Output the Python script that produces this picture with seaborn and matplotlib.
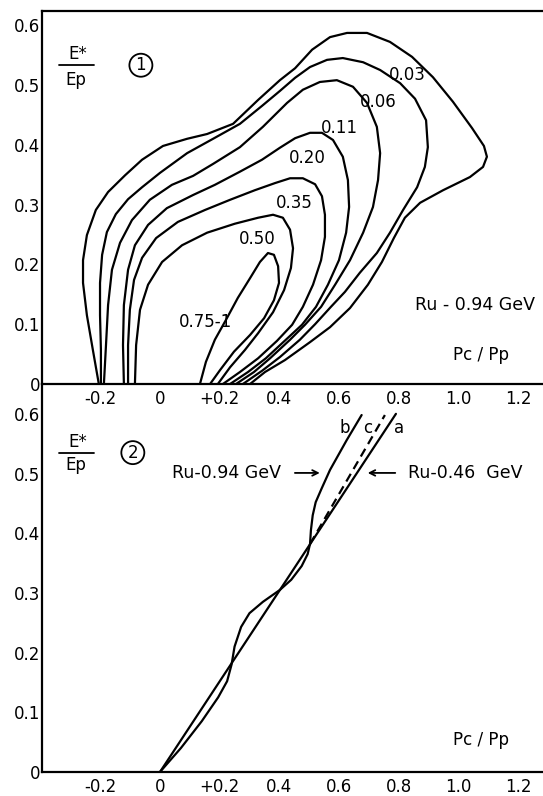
import matplotlib
matplotlib.use("Agg")
import matplotlib.pyplot as plt
import seaborn as sns

# Panel 1: iso-lines for Ru - 0.94 GeV, traced from the left foot over the top to the right foot
levels = ["0.03", "0.06", "0.11", "0.20", "0.35", "0.50", "0.75-1"]

x_003 = [-0.205, -0.225, -0.245, -0.258, -0.258, -0.245, -0.215, -0.174, -0.117, -0.060,
         0.010, 0.091, 0.158, 0.245, 0.329, 0.402, 0.453, 0.510, 0.570, 0.627,
         0.694, 0.771, 0.845, 0.915, 0.982, 1.046, 1.086, 1.096, 1.083, 1.039,
         0.949, 0.872, 0.821, 0.784, 0.744, 0.697, 0.637, 0.570, 0.503, 0.419, 0.352, 0.302]
y_003 = [0.0, 0.057, 0.115, 0.169, 0.207, 0.249, 0.291, 0.321, 0.349, 0.375,
         0.398, 0.410, 0.418, 0.435, 0.475, 0.508, 0.528, 0.559, 0.580, 0.587,
         0.587, 0.572, 0.547, 0.513, 0.472, 0.428, 0.398, 0.380, 0.363, 0.346,
         0.324, 0.303, 0.278, 0.244, 0.204, 0.166, 0.127, 0.095, 0.070, 0.040, 0.020, 0.0]

x_006 = [-0.198, -0.198, -0.201, -0.201, -0.194, -0.178, -0.148, -0.107, -0.060, 0.0,
         0.091, 0.178, 0.268, 0.342, 0.402, 0.453, 0.503, 0.560, 0.613, 0.681,
         0.738, 0.805, 0.855, 0.892, 0.898, 0.888, 0.862, 0.815, 0.771, 0.727,
         0.670, 0.620, 0.573, 0.520, 0.469, 0.402, 0.342, 0.278]
y_006 = [0.0, 0.057, 0.115, 0.169, 0.216, 0.254, 0.284, 0.309, 0.329, 0.353,
         0.386, 0.410, 0.435, 0.465, 0.490, 0.512, 0.530, 0.542, 0.545, 0.538,
         0.525, 0.503, 0.477, 0.441, 0.396, 0.363, 0.329, 0.291, 0.253, 0.219,
         0.186, 0.154, 0.129, 0.100, 0.074, 0.045, 0.022, 0.0]

x_011 = [-0.188, -0.181, -0.174, -0.161, -0.134, -0.094, -0.034, 0.040, 0.111, 0.178,
         0.268, 0.345, 0.426, 0.479, 0.536, 0.593, 0.647, 0.694, 0.727, 0.738,
         0.731, 0.714, 0.681, 0.637, 0.587, 0.540, 0.486, 0.436, 0.369, 0.315, 0.255]
y_011 = [0.0, 0.065, 0.132, 0.191, 0.236, 0.274, 0.308, 0.333, 0.348, 0.368,
         0.396, 0.430, 0.470, 0.492, 0.505, 0.508, 0.497, 0.470, 0.430, 0.386,
         0.341, 0.296, 0.253, 0.207, 0.166, 0.129, 0.099, 0.074, 0.043, 0.020, 0.0]

x_020 = [-0.121, -0.124, -0.121, -0.107, -0.084, -0.040, 0.023, 0.111, 0.184, 0.268,
         0.342, 0.402, 0.453, 0.503, 0.543, 0.580, 0.613, 0.630, 0.634, 0.624,
         0.600, 0.563, 0.523, 0.476, 0.422, 0.355, 0.295, 0.235]
y_020 = [0.0, 0.065, 0.132, 0.191, 0.232, 0.266, 0.294, 0.316, 0.333, 0.355,
         0.375, 0.395, 0.411, 0.420, 0.420, 0.408, 0.380, 0.341, 0.296, 0.253,
         0.207, 0.166, 0.129, 0.099, 0.074, 0.043, 0.020, 0.0]

x_035 = [-0.107, -0.107, -0.101, -0.087, -0.060, -0.013, 0.060, 0.151, 0.235, 0.318,
         0.386, 0.436, 0.479, 0.520, 0.543, 0.553, 0.553, 0.540, 0.513, 0.479,
         0.443, 0.392, 0.329, 0.268, 0.211]
y_035 = [0.0, 0.065, 0.124, 0.174, 0.211, 0.244, 0.271, 0.291, 0.308, 0.324,
         0.336, 0.344, 0.344, 0.334, 0.314, 0.283, 0.246, 0.207, 0.166, 0.129,
         0.099, 0.072, 0.043, 0.020, 0.0]

x_050 = [-0.084, -0.080, -0.067, -0.040, 0.007, 0.074, 0.158, 0.251, 0.329, 0.379,
         0.412, 0.436, 0.446, 0.439, 0.416, 0.379, 0.329, 0.285, 0.235, 0.194]
y_050 = [0.0, 0.065, 0.124, 0.166, 0.204, 0.232, 0.253, 0.268, 0.278, 0.283,
         0.278, 0.258, 0.227, 0.194, 0.157, 0.120, 0.085, 0.057, 0.028, 0.0]

x_075 = [0.134, 0.154, 0.184, 0.221, 0.261, 0.302, 0.335, 0.362, 0.382, 0.396,
         0.399, 0.382, 0.349, 0.302, 0.248, 0.201, 0.168]
y_075 = [0.0, 0.037, 0.074, 0.107, 0.144, 0.177, 0.204, 0.219, 0.216, 0.197,
         0.169, 0.140, 0.110, 0.082, 0.054, 0.023, 0.0]

# Panel 2: a = Ru-0.46 GeV, b = Ru-0.94 GeV, c = dashed
a_x = [0.0, 0.791]
a_y = [0.0, 0.600]
b_x = [0.0, 0.070, 0.140, 0.195, 0.225, 0.240, 0.250, 0.272, 0.300, 0.345, 0.402,
       0.440, 0.475, 0.495, 0.503, 0.506, 0.512, 0.522, 0.542, 0.570, 0.626, 0.676]
b_y = [0.0, 0.040, 0.085, 0.125, 0.152, 0.180, 0.210, 0.243, 0.266, 0.285, 0.305,
       0.322, 0.345, 0.365, 0.382, 0.405, 0.430, 0.452, 0.475, 0.506, 0.556, 0.598]
c_x = [0.503, 0.754]
c_y = [0.382, 0.598]

xticks = [-0.2, 0, 0.2, 0.4, 0.6, 0.8, 1.0, 1.2]
xtick_labels = ["-0.2", "0", "+0.2", "0.4", "0.6", "0.8", "1.0", "1.2"]
yticks = [0, 0.1, 0.2, 0.3, 0.4, 0.5, 0.6]
ytick_labels = ["0", "0.1", "0.2", "0.3", "0.4", "0.5", "0.6"]

sns.set_style("white")
plt.rcParams['font.family'] = ['DejaVu Sans']
plt.rcParams['text.color'] = 'black'
plt.rcParams['xtick.color'] = 'black'
plt.rcParams['ytick.color'] = 'black'

fig = plt.figure(figsize=(5.43, 7.96), dpi=100)
ax1 = fig.add_axes([0.0773, 0.5176, 0.9227, 0.4686])
ax2 = fig.add_axes([0.0773, 0.0302, 0.9227, 0.4874])

contours = [(x_003, y_003), (x_006, y_006), (x_011, y_011), (x_020, y_020),
            (x_035, y_035), (x_050, y_050), (x_075, y_075)]
for cx, cy in contours:
    sns.lineplot(x=cx, y=cy, sort=False, estimator=None, color="black", lw=1.6, ax=ax1)

sns.lineplot(x=a_x, y=a_y, sort=False, estimator=None, color="black", lw=1.6, ax=ax2)
sns.lineplot(x=b_x, y=b_y, sort=False, estimator=None, color="black", lw=1.6, ax=ax2)
sns.lineplot(x=c_x, y=c_y, sort=False, estimator=None, color="black", lw=1.6,
             linestyle=(0, (4, 2.5)), ax=ax2)

for ax, top in [(ax1, 0.6237), (ax2, 0.650)]:
    ax.set_xlim(-0.3956, 1.284)
    ax.set_ylim(0, top)
    ax.set_xticks(xticks)
    ax.set_xticklabels(xtick_labels)
    ax.set_yticks(yticks)
    ax.set_yticklabels(ytick_labels)
    ax.tick_params(axis='both', direction='in', length=6, width=1.3, labelsize=12,
                   colors='black', labelcolor='black')
    ax.tick_params(axis='x', pad=4)
    ax.tick_params(axis='y', pad=1)
    ax.spines['right'].set_visible(False)
    for s in ['left', 'bottom', 'top']:
        ax.spines[s].set_linewidth(1.6)
        ax.spines[s].set_color('black')
    ax.set_xlabel("")
    ax.set_ylabel("")
    ax.patch.set_alpha(0)
ax2.spines['top'].set_visible(False)

# E*/Ep fraction labels and panel numbers
for ax, ye, yl, yp, xn, num in [(ax1, 0.552, 0.508, 0.533, -0.064, "1"),
                                (ax2, 0.553, 0.514, 0.535, -0.091, "2")]:
    ax.text(-0.277, ye, "E*", fontsize=12, ha='center', va='center')
    ax.text(-0.281, yl, "Ep", fontsize=12, ha='center', va='center')
    ax.plot([-0.340, -0.222], [yp, yp], color='black', lw=1.3)
    ax.text(xn, yp, num, fontsize=12, ha='center', va='center',
            bbox=dict(boxstyle="circle,pad=0.15", fc="white", ec="black", lw=1.3))

# contour labels
label_pos = [(0.828, 0.517), (0.731, 0.472), (0.603, 0.428), (0.493, 0.378),
             (0.449, 0.303), (0.325, 0.242), (0.154, 0.104)]
for lab, (lx, ly) in zip(levels, label_pos):
    ax1.text(lx, ly, lab, fontsize=12, ha='center', va='center')

ax1.text(0.855, 0.132, "Ru - 0.94 GeV", fontsize=12.5, ha='left', va='center')
ax1.text(1.076, 0.048, "Pc / Pp", fontsize=12, ha='center', va='center')

ax2.text(1.076, 0.054, "Pc / Pp", fontsize=12, ha='center', va='center')
ax2.text(0.620, 0.576, "b", fontsize=12, ha='center', va='center')
ax2.text(0.697, 0.576, "c", fontsize=12, ha='center', va='center')
ax2.text(0.801, 0.576, "a", fontsize=12, ha='center', va='center')
ax2.text(0.040, 0.501, "Ru-0.94 GeV", fontsize=12.5, ha='left', va='center')
ax2.annotate("", xy=(0.545, 0.501), xytext=(0.443, 0.501),
             arrowprops=dict(arrowstyle='->', lw=1.3, color='black'))
ax2.text(0.831, 0.501, "Ru-0.46  GeV", fontsize=12.5, ha='left', va='center')
ax2.annotate("", xy=(0.687, 0.501), xytext=(0.798, 0.501),
             arrowprops=dict(arrowstyle='->', lw=1.3, color='black'))

fig.savefig("out.png", dpi=100)
